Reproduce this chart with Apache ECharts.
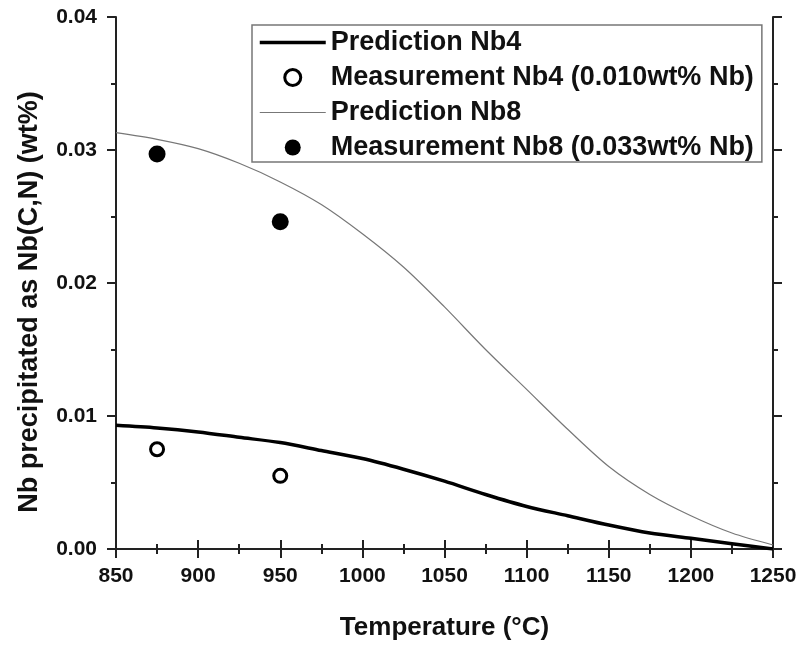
<!DOCTYPE html>
<html>
<head>
<meta charset="utf-8">
<script src="https://cdn.jsdelivr.net/npm/echarts@6/dist/echarts.min.js"></script>
<style>html,body{margin:0;padding:0;background:#fff;}#c{width:800px;height:646px;}</style>
</head>
<body>
<div id="c"></div>
<script>
// Temperatures (°C) for the prediction curves
const predTemps = [850, 875, 900, 925, 950, 975, 1000, 1025, 1050, 1075, 1100, 1125, 1150, 1175, 1200, 1225, 1250];
// Prediction Nb4 (wt%)
const predNb4 = [0.0093, 0.0091, 0.0088, 0.0084, 0.0080, 0.0074, 0.0068, 0.0060, 0.0051, 0.0041, 0.0032, 0.0025, 0.0018, 0.0012, 0.0008, 0.0004, 0.0000];
// Prediction Nb8 (wt%)
const predNb8 = [0.0313, 0.0308, 0.0301, 0.0290, 0.0276, 0.0259, 0.0237, 0.0212, 0.0182, 0.0150, 0.0120, 0.0090, 0.0062, 0.0041, 0.0025, 0.0012, 0.0003];
// Measurements
const measTemps = [875, 950];
const measNb4 = [0.0075, 0.0055];
const measNb8 = [0.0297, 0.0246];
// Names
const seriesNames = ['Prediction Nb4', 'Measurement Nb4 (0.010wt% Nb)', 'Prediction Nb8', 'Measurement Nb8 (0.033wt% Nb)'];
const xTitle = 'Temperature (°C)';
const yTitle = 'Nb precipitated as Nb(C,N) (wt%)';

const FONT = '"Liberation Sans", Arial, sans-serif';
const INK = '#111';
const zip = (a, b) => a.map((v, i) => [v, b[i]]);

const axisLine = { show: true, lineStyle: { color: '#222', width: 2 } };
const axisTick = { show: true, inside: false, length: 9, lineStyle: { color: '#222', width: 2 } };
const minorTick = { show: true, splitNumber: 2, length: 5, lineStyle: { color: '#222', width: 2 } };

const chart = echarts.init(document.getElementById('c'), null, { renderer: 'canvas' });
chart.setOption({
  backgroundColor: '#fff',
  animation: false,
  grid: { left: 116, right: 27, top: 17, bottom: 96, containLabel: false },
  legend: {
    orient: 'vertical',
    left: 252, top: 25,
    itemWidth: 66, itemHeight: 16, itemGap: 8,
    padding: [4, 8, 1, 6],
    borderColor: '#777', borderWidth: 1.5,
    backgroundColor: '#fff',
    textStyle: { fontFamily: FONT, fontWeight: 'bold', fontSize: 27, lineHeight: 27, color: INK },
    data: [
      { name: seriesNames[0], lineStyle: { width: 3.5, color: '#000' }, itemStyle: { opacity: 0 } },
      { name: seriesNames[1], itemStyle: { color: '#fff', borderColor: '#000', borderWidth: 3 } },
      { name: seriesNames[2], lineStyle: { width: 1.2, color: '#777' }, itemStyle: { opacity: 0 } },
      { name: seriesNames[3], itemStyle: { color: '#000', borderWidth: 0 } }
    ]
  },
  xAxis: [
    {
      type: 'value', position: 'bottom', min: 850, max: 1250, interval: 50,
      name: xTitle, nameLocation: 'middle', nameGap: 66,
      nameTextStyle: { fontFamily: FONT, fontWeight: 'bold', fontSize: 26, color: INK },
      axisLine, axisTick, minorTick, splitLine: { show: false },
      axisLabel: { margin: 17, fontFamily: FONT, fontWeight: 'bold', fontSize: 21, color: INK,
        formatter: v => String(v) }
    },
    {
      type: 'value', position: 'top', min: 850, max: 1250, interval: 50,
      axisLine, axisTick, minorTick, splitLine: { show: false },
      axisLabel: { show: false }
    }
  ],
  yAxis: [
    {
      type: 'value', position: 'left', min: 0, max: 0.04, interval: 0.01,
      name: yTitle, nameLocation: 'middle', nameGap: 73, nameRotate: 90,
      nameTextStyle: { fontFamily: FONT, fontWeight: 'bold', fontSize: 27, color: INK, padding: [0, 38, 0, 0] },
      axisLine, axisTick, minorTick, splitLine: { show: false },
      axisLabel: { margin: 19, fontFamily: FONT, fontWeight: 'bold', fontSize: 21, color: INK,
        formatter: v => v.toFixed(2) }
    },
    {
      type: 'value', position: 'right', min: 0, max: 0.04, interval: 0.01,
      axisLine, axisTick, minorTick, splitLine: { show: false },
      axisLabel: { show: false }
    }
  ],
  series: [
    {
      name: seriesNames[0], type: 'line', xAxisIndex: 0, yAxisIndex: 0,
      data: zip(predTemps, predNb4), symbol: 'none', smooth: 0.3,
      lineStyle: { color: '#000', width: 3.5 }, itemStyle: { color: '#000' }, z: 3
    },
    {
      name: seriesNames[1], type: 'scatter', xAxisIndex: 0, yAxisIndex: 0,
      data: zip(measTemps, measNb4), symbol: 'circle', symbolSize: 13,
      itemStyle: { color: '#fff', borderColor: '#000', borderWidth: 3, opacity: 1 }, z: 4
    },
    {
      name: seriesNames[2], type: 'line', xAxisIndex: 0, yAxisIndex: 0,
      data: zip(predTemps, predNb8), symbol: 'none', smooth: 0.3,
      lineStyle: { color: '#777', width: 1.2 }, itemStyle: { color: '#777' }, z: 2
    },
    {
      name: seriesNames[3], type: 'scatter', xAxisIndex: 0, yAxisIndex: 0,
      data: zip(measTemps, measNb8), symbol: 'circle', symbolSize: 17,
      itemStyle: { color: '#000', opacity: 1 }, z: 4
    }
  ]
});
</script>
</body>
</html>
